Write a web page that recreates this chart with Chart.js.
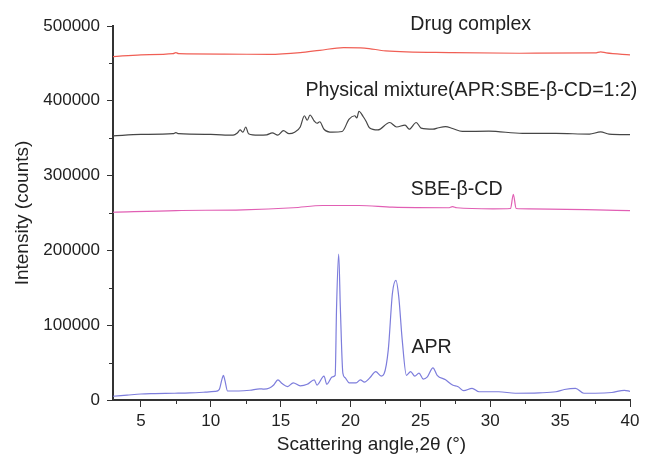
<!DOCTYPE html>
<html>
<head>
<meta charset="utf-8">
<script src="https://cdn.jsdelivr.net/npm/chart.js@4"></script>
<style>
  body { margin: 0; background: #fff; }
  canvas { display: block; }
</style>
</head>
<body>
<canvas id="xrd-chart" width="654" height="461"></canvas>
<script>
// XRD patterns, 2θ in degrees vs intensity (counts), offsets already included
const aprAngle = [3, 4, 5, 6, 7.4, 8.5, 9.6, 10.3, 10.6, 10.8, 10.9, 11.0, 11.2, 12, 12.8, 13.5, 13.8, 14.2, 14.5, 14.8,
    15.1, 15.5, 15.9, 16.4, 16.9, 17.4, 17.6, 18.1, 18.3, 18.7, 18.9, 19.0, 19.15, 19.27, 19.45, 19.6, 19.9, 20.4, 20.7, 21.0,
    21.4, 21.8, 22.2, 22.4, 22.7, 23.0, 23.25, 23.45, 23.7, 24.0, 24.3, 24.6, 24.9, 25.2, 25.5, 25.9, 26.2, 26.8, 27.3, 27.7,
    28.1, 28.7, 29.2, 30.6, 31.8, 33.5, 34.7, 35.3, 36.1, 36.7, 37.5, 38.7, 39.6, 40];
const aprCounts = [5000, 6500, 8000, 8500, 9000, 9500, 10500, 11500, 14000, 28000, 33000, 27000, 12000, 12000, 13000, 15000, 14500, 16000, 20000, 27000,
    22000, 18000, 23000, 19000, 21000, 27000, 20000, 32000, 21000, 31000, 33000, 124000, 195000, 124000, 36000, 30000, 23000, 23000, 27000, 24000,
    30000, 38000, 32000, 35000, 67000, 143000, 160000, 138000, 80000, 33000, 38000, 32000, 36000, 28000, 31000, 43000, 33000, 27000, 20000, 17800,
    12400, 15600, 11000, 11000, 9000, 9500, 11000, 14000, 15600, 9000, 9000, 10000, 13000, 11500];

const sbeAngle = [3, 7.5, 12.3, 15.9, 18, 20.6, 23, 27.0, 27.3, 27.6, 30.2, 31.45, 31.65, 31.85, 32.8, 40];
const sbeCounts = [251000, 253300, 254200, 257000, 260000, 260000, 257800, 257000, 258500, 257000, 255500, 256000, 275000, 256000, 255500, 253300];

const mixAngle = [3, 5, 7.3, 7.5, 7.7, 10, 11.6, 11.9, 12.1, 12.3, 12.5, 12.7, 13.4, 14, 14.4, 14.8, 15.2, 15.6, 16.0, 16.4,
    16.7, 16.9, 17.1, 17.4, 17.6, 17.8, 18.1, 18.7, 19.4, 19.9, 20.3, 20.45, 20.6, 20.9, 21.1, 21.35, 21.95, 22.8, 23.3, 23.9,
    24.2, 24.7, 25.05, 25.9, 26.3, 26.8, 27.3, 28, 29.9, 32.3, 34.7, 37.1, 37.9, 38.5, 40];
const mixCounts = [353000, 355000, 356000, 357500, 356000, 355000, 354000, 357000, 361000, 358000, 365000, 356000, 354000, 354500, 357000, 354000, 360000, 356000, 358000, 365000,
    380000, 374000, 381000, 373000, 370000, 372000, 362000, 358000, 359000, 375600, 380000, 377000, 386000, 379000, 373000, 364000, 361000, 371000, 365000, 367500,
    362000, 371000, 363500, 362000, 364000, 365500, 363000, 359000, 359500, 356400, 356400, 355500, 358500, 355500, 354700];

const complexAngle = [3, 5, 7.3, 7.5, 7.7, 11, 14.2, 16.4, 17.8, 19.5, 21, 22.5, 27.3, 32.1, 37.5, 37.9, 38.3, 40];
const complexCounts = [459000, 461500, 463000, 464500, 463000, 462500, 462000, 464400, 467500, 471000, 470500, 466700, 464400, 463600, 464000, 465500, 464000, 461300];

const xMajorTicks = [5, 10, 15, 20, 25, 30, 35, 40];
const xMinorTicks = [7.5, 12.5, 17.5, 22.5, 27.5, 32.5, 37.5];
const yMajorTicks = [0, 100000, 200000, 300000, 400000, 500000];
const yMinorTicks = [50000, 150000, 250000, 350000, 450000];

// curve labels, placed in data coordinates
const curveLabels = [
    { text: 'Drug complex', x: 28.6, y: 502000 },
    { text: 'Physical mixture(APR:SBE-β-CD=1:2)', x: 28.65, y: 413000 },
    { text: 'SBE-β-CD', x: 27.6, y: 281000 },
    { text: 'APR', x: 25.8, y: 70500 }
];

const toPoints = (xs, ys) => xs.map((x, i) => ({ x: x, y: ys[i] }));

const FONT = "'Liberation Sans', Arial, sans-serif";
const AXIS_COLOR = '#333';

Chart.defaults.font.family = FONT;
Chart.defaults.color = '#222';

const minorTicks = {
    id: 'minorTicks',
    afterDraw(chart) {
        const ctx = chart.ctx;
        const xs = chart.scales.x;
        const ys = chart.scales.y;
        ctx.save();
        ctx.strokeStyle = AXIS_COLOR;
        ctx.lineWidth = 1;
        ctx.beginPath();
        xMinorTicks.forEach(v => {
            const px = Math.round(xs.getPixelForValue(v)) + 0.5;
            ctx.moveTo(px, xs.top);
            ctx.lineTo(px, xs.top + 4);
        });
        yMinorTicks.forEach(v => {
            const py = Math.round(ys.getPixelForValue(v)) + 0.5;
            ctx.moveTo(ys.right, py);
            ctx.lineTo(ys.right - 4, py);
        });
        ctx.stroke();
        ctx.restore();
    }
};

const curveText = {
    id: 'curveText',
    afterDatasetsDraw(chart) {
        const ctx = chart.ctx;
        ctx.save();
        ctx.font = '19.6px ' + FONT;
        ctx.fillStyle = '#222';
        ctx.textAlign = 'center';
        ctx.textBaseline = 'middle';
        curveLabels.forEach(l => {
            ctx.fillText(l.text, chart.scales.x.getPixelForValue(l.x), chart.scales.y.getPixelForValue(l.y));
        });
        ctx.restore();
    }
};

const lineSet = (label, color, data) => ({
    label: label,
    data: data,
    borderColor: color,
    backgroundColor: color,
    borderWidth: 1.2,
    pointRadius: 0,
    fill: false,
    cubicInterpolationMode: 'monotone'
});

new Chart(document.getElementById('xrd-chart'), {
    type: 'line',
    data: {
        datasets: [
            lineSet('APR', 'rgb(125,125,220)', toPoints(aprAngle, aprCounts)),
            lineSet('SBE-β-CD', 'rgb(225,95,180)', toPoints(sbeAngle, sbeCounts)),
            lineSet('Physical mixture', 'rgb(70,70,70)', toPoints(mixAngle, mixCounts)),
            lineSet('Drug complex', 'rgb(240,95,85)', toPoints(complexAngle, complexCounts))
        ]
    },
    options: {
        responsive: false,
        animation: false,
        layout: {
            padding: { top: 26, right: 24, left: 0, bottom: 0 }
        },
        plugins: {
            legend: { display: false },
            tooltip: { enabled: false }
        },
        scales: {
            x: {
                type: 'linear',
                min: 3,
                max: 40,
                afterBuildTicks: scale => { scale.ticks = xMajorTicks.map(v => ({ value: v })); },
                afterFit: scale => { scale.height = 61; },
                grid: { drawOnChartArea: false, tickLength: 7, tickColor: AXIS_COLOR },
                border: { color: AXIS_COLOR, width: 2 },
                ticks: { font: { size: 17 }, color: '#222', padding: 4, maxRotation: 0 },
                title: {
                    display: true,
                    text: 'Scattering angle,2θ (°)',
                    font: { size: 19 },
                    color: '#222',
                    padding: { top: 0, bottom: 5 }
                }
            },
            y: {
                min: 0,
                max: 500000,
                afterBuildTicks: scale => { scale.ticks = yMajorTicks.map(v => ({ value: v })); },
                afterFit: scale => { scale.width = 113; },
                grid: { drawOnChartArea: false, tickLength: 6, tickColor: AXIS_COLOR },
                border: { color: AXIS_COLOR, width: 2 },
                ticks: { font: { size: 17 }, color: '#222', padding: 7, callback: v => String(v) },
                title: {
                    display: true,
                    text: 'Intensity (counts)',
                    font: { size: 19 },
                    color: '#222',
                    padding: { top: 11, bottom: 0 }
                }
            }
        }
    },
    plugins: [minorTicks, curveText]
});
</script>
</body>
</html>
